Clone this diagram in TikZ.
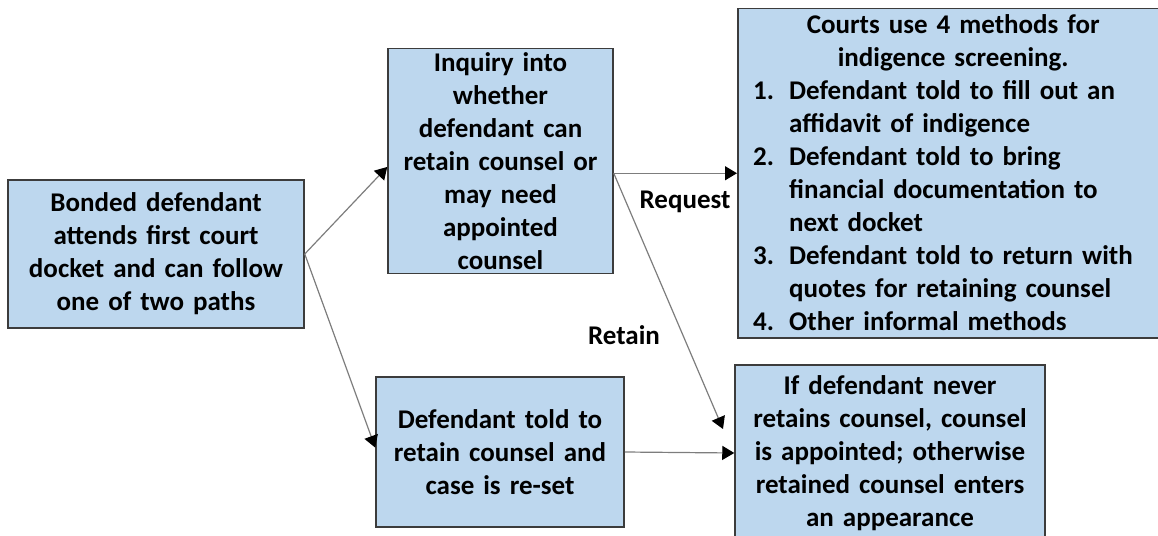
\documentclass[tikz,border=0pt]{standalone}
\usepackage{fontspec}
\setmainfont{Carlito}
\usetikzlibrary{arrows.meta}
\usetikzlibrary{positioning}
\setlength\parindent{0pt}

\definecolor{boxblue}{RGB}{189,215,238}
\definecolor{boxline}{RGB}{60,60,60}
\definecolor{linkgray}{RGB}{125,125,125}

\newcommand\methoditem[2]{\par\noindent\hangindent=36pt\hangafter=1\makebox[36pt][l]{#1}#2\par}
\newcommand\methodhead[1]{\par\noindent\makebox[400pt][c]{#1}\par}

\begin{document}
\begin{tikzpicture}[x=1pt,y=1pt,
every node/.style={font=\fontsize{27pt}{33pt}\selectfont\bfseries},
box/.style={draw=boxline, line width=1.5pt, fill=boxblue, align=center, inner sep=0pt},
link/.style={draw=linkgray, line width=1.2pt, -{Triangle[length=12pt,width=14pt,black]}}]
\useasboundingbox (0,0) rectangle (1158,-535);
% boxes
\node[box, minimum width=296pt, minimum height=148pt, text width=284pt] (bonded) at (156,-254)
{Bonded defendant\\ attends first court\\ docket and can follow\\ one of two paths};
\node[box, minimum width=225pt, minimum height=225pt, text width=215pt] (inquiry) at (500.5,-161)
{Inquiry into\\ whether\\ defendant can\\ retain counsel or\\ may need\\ appointed\\ counsel};
\node[box, minimum width=248pt, minimum height=150pt, text width=236pt] (toldretain) at (500,-452)
{Defendant told to\\ retain counsel and\\ case is re-set};
\node[box, minimum width=310pt, minimum height=176pt, text width=298pt] (appoint) at (890,-453)
{If defendant never\\ retains counsel, counsel\\ is appointed; otherwise\\ retained counsel enters\\ an appearance};
\node[box, anchor=north west, minimum width=460pt, minimum height=329pt] (methods) at (737,-8) {};
\node[anchor=north west, align=left, text width=420pt, inner sep=0pt] (methodlist) at (753,0)
{\methodhead{Courts use 4 methods for}
\methodhead{indigence screening.}
\methoditem{1.}{Defendant told to fill out an\newline affidavit of indigence}
\methoditem{2.}{Defendant told to bring\newline financial documentation to\newline next docket}
\methoditem{3.}{Defendant told to return with\newline quotes for retaining counsel}
\methoditem{4.}{Other informal methods}};
% labels
\node (request) at (685,-202) {Request};
\node (retain) at (624,-335) {Retain};
\coordinate (retainend) at (723,-429);
% connectors
\draw[link] (bonded.east) -- (inquiry.183);
\draw[link] (bonded.east) -- (toldretain.178);
\draw[link] (inquiry.east |- methods.west) -- (methods.west);
\draw[link] (inquiry.east |- methods.west) -- (retainend);
\draw[link] (toldretain.east) -- (appoint.west);
\end{tikzpicture}
\end{document}
